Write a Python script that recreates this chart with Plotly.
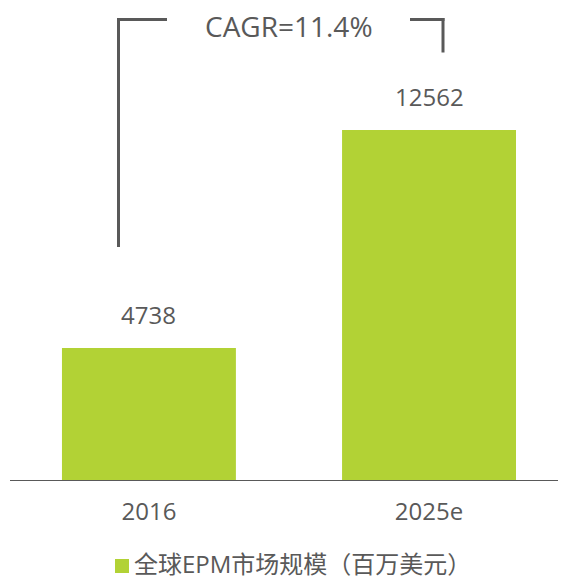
import plotly.graph_objects as go

categories = ["2016", "2025e"]
values = [4738, 12562]
series_name = "全球EPM市场规模（百万美元）"
cagr_label = "CAGR=11.4%"

GREEN = "#b2d235"
GRAY = "#595959"
FONT = "Open Sans, Noto Sans CJK SC, sans-serif"

xpos = list(range(len(categories)))

fig = go.Figure()
fig.add_trace(go.Bar(
    x=xpos, y=values, name=series_name,
    marker=dict(color=GREEN, line=dict(width=0)),
    width=0.621, showlegend=False,
))

for xi, v in zip(xpos, values):
    fig.add_annotation(x=xi, y=v, xref="x", yref="y", text=str(v), showarrow=False,
                       yanchor="bottom", yshift=15,
                       font=dict(family=FONT, size=24, color=GRAY))

# page pixel -> paper coords (plot area spans page px x 10..566, y 8..480;
# the page body adds an 8px offset)
def px_x(p):
    return (p - 10) / 556
def px_y(p):
    return (480 - p) / 472

# CAGR bracket
line = dict(color=GRAY, width=3)
fig.add_shape(type="line", xref="paper", yref="paper",
              x0=px_x(118.5), x1=px_x(118.5), y0=px_y(247), y1=px_y(19.5), line=line)
fig.add_shape(type="line", xref="paper", yref="paper",
              x0=px_x(117), x1=px_x(167), y0=px_y(19.5), y1=px_y(19.5), line=line)
fig.add_shape(type="line", xref="paper", yref="paper",
              x0=px_x(410), x1=px_x(444.5), y0=px_y(19.5), y1=px_y(19.5), line=line)
fig.add_shape(type="line", xref="paper", yref="paper",
              x0=px_x(443), x1=px_x(443), y0=px_y(18), y1=px_y(52.5), line=line)
fig.add_annotation(xref="paper", yref="paper", x=px_x(288.5), y=px_y(26),
                   text=cagr_label, showarrow=False, xanchor="center", yanchor="middle",
                   font=dict(family=FONT, size=28, color=GRAY))

# legend (square swatch + label)
fig.add_shape(type="rect", xref="paper", yref="paper",
              x0=px_x(115), x1=px_x(129), y0=px_y(559), y1=px_y(573),
              fillcolor=GREEN, line=dict(width=0))
fig.add_annotation(xref="paper", yref="paper", x=px_x(133), y=px_y(563),
                   text=series_name, showarrow=False, xanchor="left", yanchor="middle",
                   borderpad=0,
                   font=dict(family=FONT, size=24, color=GRAY))

fig.update_layout(
    width=558, height=571,
    margin=dict(l=2, r=0, t=0, b=99),
    paper_bgcolor="white", plot_bgcolor="white",
    font=dict(family=FONT, size=24, color=GRAY),
    showlegend=False,
    xaxis=dict(range=[-0.496, 1.489], tickvals=xpos, ticktext=categories,
               showgrid=False, showline=True, linecolor=GRAY, linewidth=1,
               ticks="", ticklabelstandoff=10, tickfont=dict(size=24, color=GRAY),
               zeroline=False),
    yaxis=dict(visible=False, range=[0, 16940], showgrid=False, zeroline=False),
)

fig.write_html("out.html")
